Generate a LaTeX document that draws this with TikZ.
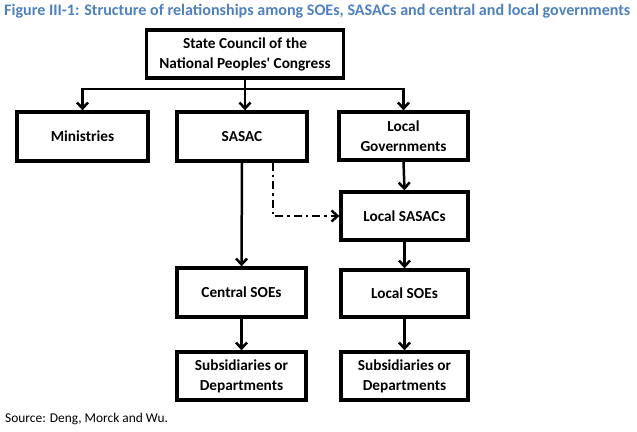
\documentclass[tikz,border=0pt]{standalone}
\usepackage{fontspec}
\setmainfont{Carlito}
\usetikzlibrary{arrows.meta}
\definecolor{titleblue}{HTML}{4F81BD}
\tikzset{
  tip/.tip={Straight Barb[length=6pt,width=11pt,line width=2.5pt]},
  box/.style={draw=black, line width=3.3pt, rectangle, align=center, font=\fontsize{15.3}{20}\selectfont\bfseries, inner sep=0pt},
  conn/.style={draw=black, line width=2.5pt, -tip},
  dashdotline/.style={conn, dash pattern=on 8pt off 4pt on 2.5pt off 4pt},
}
\begin{document}
\begin{tikzpicture}[x=1pt,y=-1pt]
\useasboundingbox (0,0) rectangle (637,431);
\node[anchor=west, text=titleblue, font=\fontsize{16.1}{18}\selectfont\bfseries, inner sep=0pt] (title) at (4,11) {Figure III-1: Structure of relationships among SOEs, SASACs and central and local governments};
\node[anchor=west, font=\fontsize{13.4}{15}\selectfont, inner sep=0pt] (source) at (5,419) {Source: Deng, Morck and Wu.};

\node[box, minimum width=197, minimum height=48] (top) at (245,54) {State Council of the\\National Peoples\textquotesingle{} Congress};
\node[box, minimum width=131, minimum height=49] (min) at (82.5,136.5) {Ministries};
\node[box, minimum width=130, minimum height=49] (sasac) at (242,136.5) {SASAC};
\node[box, minimum width=129, minimum height=48] (locgov) at (403.5,136) {Local\\Governments};
\node[box, minimum width=127, minimum height=48] (locsasac) at (404.5,216) {Local SASACs};
\node[box, minimum width=129, minimum height=49] (centsoe) at (241.5,292.5) {Central SOEs};
\node[box, minimum width=127, minimum height=47] (locsoe) at (404.5,293.5) {Local SOEs};
\node[box, minimum width=129, minimum height=48] (subl) at (241.5,376) {Subsidiaries or\\Departments};
\node[box, minimum width=127, minimum height=48] (subr) at (404.5,376) {Subsidiaries or\\Departments};

\coordinate (hl) at (245,89);
\draw[conn, tip-tip] (min.north) |- (hl) -| (locgov.north);
\draw[conn] (top.south) -- (top.south |- sasac.north);
\draw[conn] (sasac.south) -- (centsoe.north);
\draw[dashdotline] ([xshift=31]sasac.south) |- (locsasac.west);
\draw[conn] (locgov.south) -- (locsasac.north);
\draw[conn] (locsasac.south) -- (locsoe.north);
\draw[conn] (centsoe.south) -- (subl.north);
\draw[conn] (locsoe.south) -- (subr.north);
\end{tikzpicture}
\end{document}
